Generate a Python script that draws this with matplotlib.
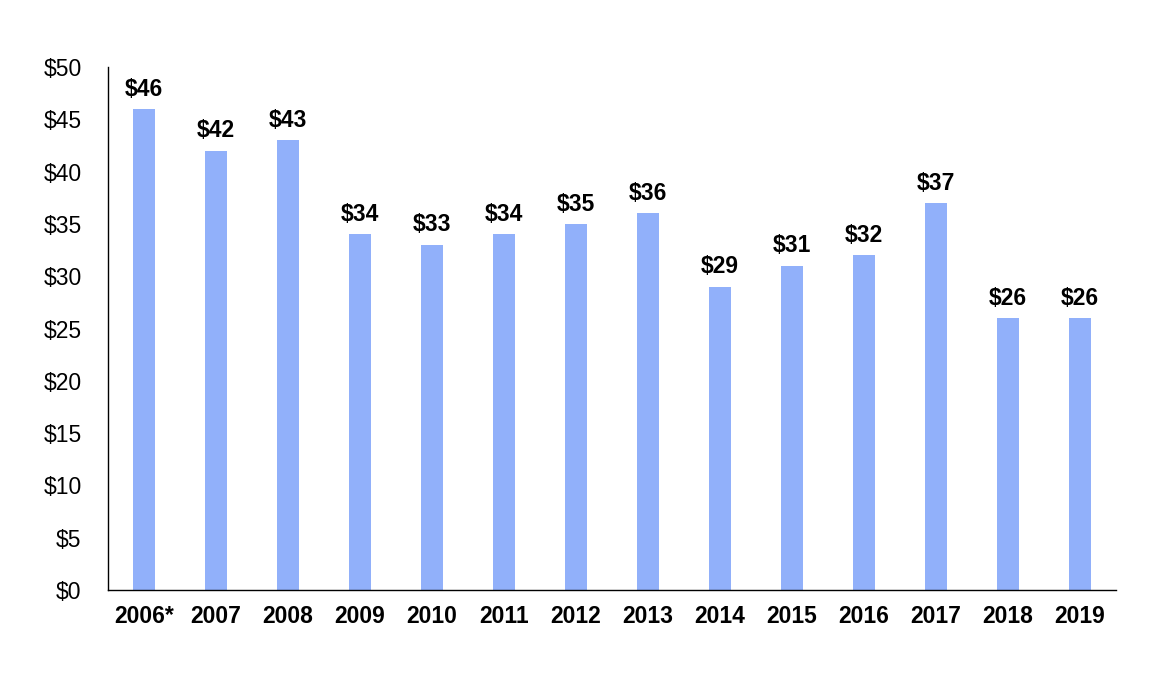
import matplotlib
matplotlib.use('Agg')
import matplotlib.pyplot as plt
import numpy as np

# data
years = ['2006*', '2007', '2008', '2009', '2010', '2011', '2012',
         '2013', '2014', '2015', '2016', '2017', '2018', '2019']
values = [46, 42, 43, 34, 33, 34, 35, 36, 29, 31, 32, 37, 26, 26]
yticks = [0, 5, 10, 15, 20, 25, 30, 35, 40, 45, 50]

plt.rcParams['font.family'] = ['Liberation Sans', 'DejaVu Sans']

fig = plt.figure(figsize=(11.76, 6.74), dpi=100)
ax = fig.add_axes([108/1176, 84/674, 1008/1176, 523/674])

x = np.arange(len(years))
bars = ax.bar(x, values, width=0.31, color='#91B0FA')

ax.bar_label(bars, labels=['$' + str(v) for v in values], padding=6,
             fontsize=16.5, fontweight='bold')

ax.set_xlim(-0.5, len(years) - 0.5)
ax.set_ylim(0, 50)
ax.set_xticks(x)
ax.set_xticklabels(years, fontsize=16.5, fontweight='bold')
ax.set_yticks(yticks)
ax.set_yticklabels(['$' + str(t) for t in yticks], fontsize=16.5)
ax.tick_params(axis='y', length=0, pad=19)
ax.tick_params(axis='x', length=0, pad=11)

for s in ['top', 'right']:
    ax.spines[s].set_visible(False)
for s in ['left', 'bottom']:
    ax.spines[s].set_linewidth(1.0)
    ax.spines[s].set_color('black')

fig.savefig('out.png', dpi=100)
